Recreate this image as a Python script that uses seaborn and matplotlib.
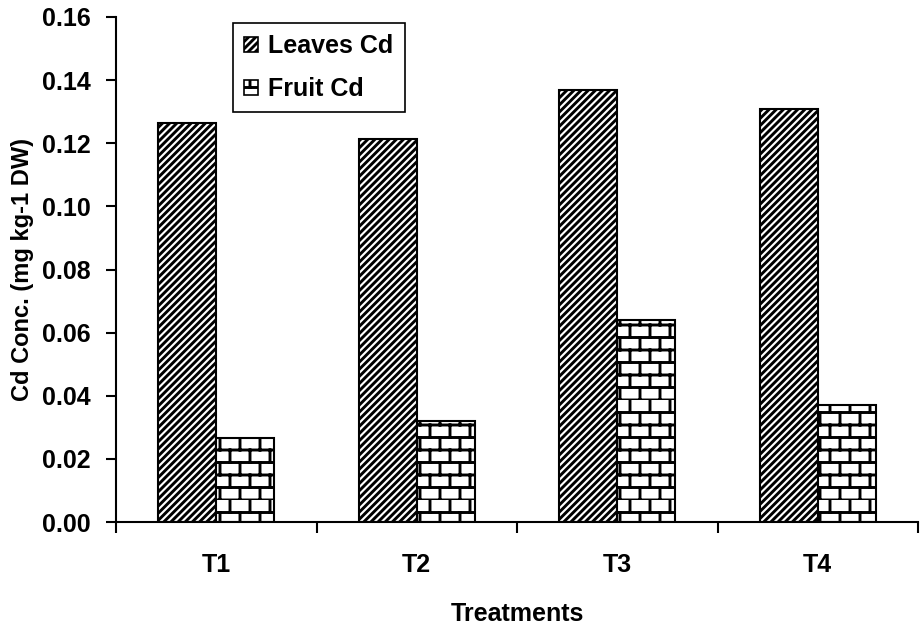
import matplotlib
matplotlib.use("Agg")
import numpy as np
import pandas as pd
import seaborn as sns
import matplotlib.pyplot as plt
import matplotlib.hatch as mhatch
from matplotlib.path import Path
from matplotlib.patches import Patch

# ---- data ----
treatments = ["T1", "T2", "T3", "T4"]
series = ["Leaves Cd", "Fruit Cd"]
leaves_cd = [0.1265, 0.1215, 0.137, 0.131]
fruit_cd = [0.0265, 0.032, 0.064, 0.037]
yticks = [0.00, 0.02, 0.04, 0.06, 0.08, 0.10, 0.12, 0.14, 0.16]


# ---- brick hatch (replaces the '-' hatch) ----
class BrickHatch(mhatch.HatchPatternBase):
    def __init__(self, hatch, density):
        n = hatch.count("-")
        self.rows = n * 4
        self.cols = 5
        self.num_vertices = (self.rows * 2 + self.rows * self.cols * 2) if n else 0

    def set_vertices_and_codes(self, vertices, codes):
        rows, cols = self.rows, self.cols
        ys = np.arange(rows) / rows
        vertices[0:2 * rows:2, 0] = 0.0
        vertices[0:2 * rows:2, 1] = ys
        vertices[1:2 * rows:2, 0] = 1.0
        vertices[1:2 * rows:2, 1] = ys
        i = 2 * rows
        for r in range(rows):
            off = 0.5 * (r % 2)
            for k in range(cols):
                x = ((k + off) / cols) % 1.0
                vertices[i, 0] = x
                vertices[i, 1] = r / rows
                vertices[i + 1, 0] = x
                vertices[i + 1, 1] = (r + 1) / rows
                i += 2
        codes[0::2] = Path.MOVETO
        codes[1::2] = Path.LINETO


# ---- diagonal hatch with a slightly wider spacing (even count to tile) ----
class WideNorthEastHatch(mhatch.HatchPatternBase):
    def __init__(self, hatch, density):
        self.num_lines = 2 * int(round(hatch.count("/") * density * 0.45))
        self.num_vertices = (self.num_lines + 1) * 2 if self.num_lines else 0

    def set_vertices_and_codes(self, vertices, codes):
        steps = np.linspace(-0.5, 0.5, self.num_lines + 1)
        vertices[0::2, 0] = 0.0 + steps
        vertices[0::2, 1] = 0.0 - steps
        vertices[1::2, 0] = 1.0 + steps
        vertices[1::2, 1] = 1.0 - steps
        codes[0::2] = Path.MOVETO
        codes[1::2] = Path.LINETO


_swap = {mhatch.HorizontalHatch: BrickHatch, mhatch.NorthEastHatch: WideNorthEastHatch}
mhatch._hatch_types = [_swap.get(t, t) for t in mhatch._hatch_types]

sns.set_style("white")
plt.rcParams["font.family"] = ["Liberation Sans", "DejaVu Sans"]
plt.rcParams["font.weight"] = "bold"
plt.rcParams["hatch.linewidth"] = 2.1
plt.rcParams["hatch.color"] = "black"
for k in ["text.color", "axes.labelcolor", "xtick.color", "ytick.color",
          "axes.edgecolor"]:
    plt.rcParams[k] = "black"

df = pd.DataFrame({
    "Treatment": treatments * 2,
    "Series": [series[0]] * len(treatments) + [series[1]] * len(treatments),
    "Cd": leaves_cd + fruit_cd,
})

fig = plt.figure(figsize=(9.23, 6.29), dpi=100)
ax = fig.add_axes([0.1257, 0.170, 0.8689, 0.803])

sns.barplot(data=df, x="Treatment", y="Cd", hue="Series", hue_order=series,
            order=treatments, palette=["white", "white"], saturation=1,
            edgecolor="black", linewidth=1.5, width=0.58, gap=0,
            legend=False, errorbar=None, ax=ax)

hatches = ["/////", "--"]
for cont, h in zip(ax.containers, hatches):
    for bar in cont:
        bar.set_hatch(h)
        bar.set_edgecolor("black")
        bar.set_linewidth(1.5)

ax.set_xlim(-0.5, 3.5)
ax.set_ylim(0, 0.16)
ax.set_yticks(yticks)
ax.set_yticklabels([f"{v:.2f}" for v in yticks])
ax.set_xticks(range(len(treatments)))
ax.set_xticks(np.arange(-0.5, len(treatments), 1.0), minor=True)
ax.tick_params(axis="x", which="major", length=0, pad=22, labelsize=18)
ax.tick_params(axis="x", which="minor", length=8, width=1.5, direction="out",
               bottom=True)
ax.tick_params(axis="y", length=7, width=1.5, direction="out", left=True,
               pad=11, labelsize=18)
for lab in ax.get_xticklabels() + ax.get_yticklabels():
    lab.set_fontweight("bold")

for s in ["top", "right"]:
    ax.spines[s].set_visible(False)
for s in ["left", "bottom"]:
    ax.spines[s].set_linewidth(1.5)

ax.set_xlabel("Treatments", fontsize=18, fontweight="bold", labelpad=18)
ax.set_ylabel("Cd Conc. (mg kg-1 DW)", fontsize=17, fontweight="bold", labelpad=6)

handles = [Patch(facecolor="white", edgecolor="black", hatch=h, linewidth=1.2)
           for h in hatches]
leg = ax.legend(handles, series, loc="upper left", bbox_to_anchor=(0.146, 0.988),
                frameon=True, fancybox=False, framealpha=1, edgecolor="black",
                prop={"weight": "bold", "size": 18}, handlelength=0.56,
                handleheight=0.56, handletextpad=0.4, labelspacing=0.75,
                borderpad=0.45, borderaxespad=0)
leg.get_frame().set_linewidth(1.2)

fig.savefig("out.png", dpi=100)
